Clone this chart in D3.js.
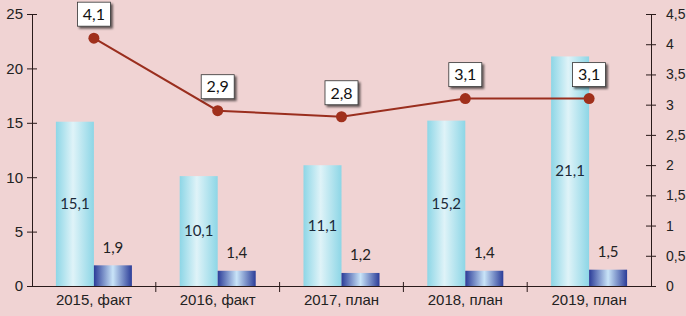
<!DOCTYPE html>
<html>
<head>
<meta charset="utf-8">
<script src="https://cdn.jsdelivr.net/npm/d3@7"></script>
<style>
    html, body { margin: 0; padding: 0; background: #f0d3d3; }
    svg { display: block; font-family: Lato, "Liberation Sans", sans-serif; }
    .axis text { font-size: 15px; fill: #222; }
    .axis path, .axis line { stroke: #2a1a1a; }
</style>
</head>
<body>
<div id="chart"></div>
<script>
// chart data
const categories = ['2015, факт', '2016, факт', '2017, план', '2018, план', '2019, план'];
const mainValues = [15.1, 10.1, 11.1, 15.2, 21.1];
const smallValues = [1.9, 1.4, 1.2, 1.4, 1.5];
const lineValues = [4.1, 2.9, 2.8, 3.1, 3.1];
const leftTicks = [0, 5, 10, 15, 20, 25];
const rightTicks = [0, 0.5, 1, 1.5, 2, 2.5, 3, 3.5, 4, 4.5];

const width = 686, height = 316;
const margin = {top: 14, right: 35, bottom: 30, left: 32};
const fmt = v => String(v).replace('.', ',');

const svg = d3.select('#chart').append('svg')
    .attr('width', width).attr('height', height);

// gradients for the bars
const defs = svg.append('defs');
const grad = (id, stops) => {
    const g = defs.append('linearGradient').attr('id', id)
        .attr('x1', '0%').attr('x2', '100%').attr('y1', '0%').attr('y2', '0%');
    stops.forEach(([o, c]) => g.append('stop').attr('offset', o).attr('stop-color', c));
};
grad('lightBar', [['0%', '#8dd6e6'], ['45%', '#dff3f8'], ['100%', '#8dd6e6']]);
grad('darkBar', [['0%', '#2b3c98'], ['50%', '#c9e4f8'], ['100%', '#2b3c98']]);
const shadow = defs.append('filter').attr('id', 'shadow')
    .attr('x', '-20%').attr('y', '-20%').attr('width', '150%').attr('height', '150%');
shadow.append('feDropShadow').attr('dx', 2).attr('dy', 2).attr('stdDeviation', 0.8)
    .attr('flood-color', '#000').attr('flood-opacity', 0.6);

const x = d3.scaleBand(categories, [margin.left, width - margin.right]);
const yL = d3.scaleLinear([0, 25], [height - margin.bottom, margin.top]);
const yR = d3.scaleLinear([0, 4.5], [height - margin.bottom, margin.top]);
const barW = 38;

// axes
svg.append('g').attr('class', 'axis')
    .attr('transform', `translate(${margin.left},0)`)
    .call(d3.axisLeft(yL).tickValues(leftTicks).tickFormat(fmt).tickSizeInner(5).tickSizeOuter(0))
    .call(g => g.selectAll('.tick line').attr('x1', 5))
    .call(g => g.selectAll('.tick text').attr('x', -9));

svg.append('g').attr('class', 'axis')
    .attr('transform', `translate(${width - margin.right},0)`)
    .call(d3.axisRight(yR).tickValues(rightTicks).tickFormat(fmt).tickSizeInner(5).tickSizeOuter(0))
    .call(g => g.selectAll('.tick line').attr('x1', -5))
    .call(g => g.selectAll('.tick text').attr('x', 15).style('font-size', '14px'));

const xAxis = svg.append('g').attr('class', 'axis')
    .attr('transform', `translate(0,${height - margin.bottom})`)
    .call(d3.axisBottom(x).tickSize(0).tickSizeOuter(0))
    .call(g => g.selectAll('.tick text').attr('dy', 0).attr('y', 19));
// tick marks between the categories
xAxis.selectAll('.sep')
    .data(categories.slice(1))
    .join('line')
    .attr('x1', d => x(d)).attr('x2', d => x(d))
    .attr('y1', -4).attr('y2', 6)
    .attr('stroke', '#2a1a1a');

// bars
const center = d => x(d) + x.bandwidth() / 2;
svg.append('g').selectAll('rect')
    .data(categories)
    .join('rect')
    .attr('x', d => center(d) - barW)
    .attr('y', (d, i) => yL(mainValues[i]))
    .attr('width', barW)
    .attr('height', (d, i) => yL(0) - yL(mainValues[i]))
    .attr('fill', 'url(#lightBar)');

svg.append('g').selectAll('rect')
    .data(categories)
    .join('rect')
    .attr('x', d => center(d))
    .attr('y', (d, i) => yL(smallValues[i]))
    .attr('width', barW)
    .attr('height', (d, i) => yL(0) - yL(smallValues[i]))
    .attr('fill', 'url(#darkBar)');

// bar value labels
svg.append('g').selectAll('text')
    .data(categories)
    .join('text')
    .attr('x', d => center(d) - barW / 2)
    .attr('y', (d, i) => (yL(mainValues[i]) + yL(0)) / 2)
    .attr('dy', '0.35em')
    .attr('text-anchor', 'middle')
    .style('font-size', '15px').attr('fill', '#1a2a3a')
    .text((d, i) => fmt(mainValues[i]));

svg.append('g').selectAll('text')
    .data(categories)
    .join('text')
    .attr('x', d => center(d) + barW / 2)
    .attr('y', (d, i) => yL(smallValues[i]) - 18)
    .attr('dy', '0.35em')
    .attr('text-anchor', 'middle')
    .style('font-size', '15px').attr('fill', '#222')
    .text((d, i) => fmt(smallValues[i]));

// line series
const line = d3.line()
    .x((d, i) => center(categories[i]))
    .y(d => yR(d));
svg.append('path')
    .datum(lineValues)
    .attr('d', line)
    .attr('fill', 'none')
    .attr('stroke', '#9a2e1e')
    .attr('stroke-width', 2);

svg.append('g').selectAll('circle')
    .data(lineValues)
    .join('circle')
    .attr('cx', (d, i) => center(categories[i]))
    .attr('cy', d => yR(d))
    .attr('r', 5.5)
    .attr('fill', '#a0301c');

// boxed labels above the line points
const boxW = 33, boxH = 24;
const labels = svg.append('g').selectAll('g')
    .data(lineValues)
    .join('g')
    .attr('transform', (d, i) => `translate(${center(categories[i])},${yR(d) - 24})`);
labels.append('rect')
    .attr('x', -boxW / 2).attr('y', -boxH / 2)
    .attr('width', boxW).attr('height', boxH)
    .attr('fill', '#fff').attr('stroke', '#333').attr('stroke-width', 0.8)
    .attr('filter', 'url(#shadow)');
labels.append('text')
    .attr('text-anchor', 'middle').attr('dy', '0.36em')
    .style('font-size', '16px').attr('fill', '#111')
    .text(d => fmt(d));
</script>
</body>
</html>
